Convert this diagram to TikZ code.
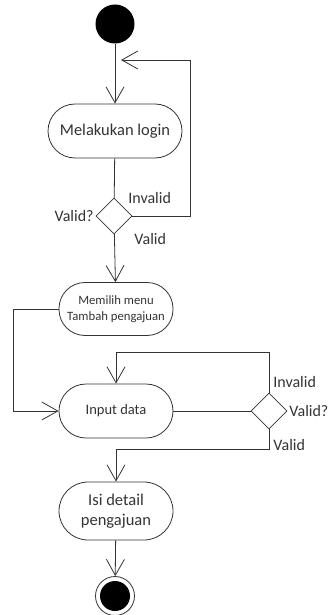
\documentclass[tikz,border=0pt]{standalone}
\usepackage{fontspec}
\setmainfont{Carlito}
\usetikzlibrary{arrows.meta,shapes.geometric}
\begin{document}
\begin{tikzpicture}[x=1pt,y=-1pt,line width=0.8pt,
  lc/.style={draw=black!80},
  act/.style={lc, rounded corners=26pt, minimum width=114pt, minimum height=53pt, inner sep=0pt, align=center, text=black!80},
  dec/.style={lc, diamond, minimum width=36pt, minimum height=36pt, inner sep=0pt},
  lbl/.style={text=black!80, font=\fontsize{16}{18}\selectfont, inner sep=0pt},
  arr/.style={lc, -{Straight Barb[length=16pt,width=18pt,line width=0.8pt]}},
  ln/.style={lc}
]
\useasboundingbox (0,0) rectangle (328,615);
\node[circle, fill=black, minimum size=39pt, inner sep=0pt] (start) at (115,24) {};
\node[act, minimum width=134pt, minimum height=54pt, rounded corners=27pt, font=\fontsize{16.5}{19}\selectfont] (login) at (115,131) {Melakukan login};
\node[dec] (d1) at (114,216) {};
\node[act, font=\fontsize{12.7}{16}\selectfont] (memilih) at (116,309) {Memilih menu\\Tambah pengajuan};
\node[act, minimum height=54pt, rounded corners=27pt, font=\fontsize{14.5}{17}\selectfont] (input) at (116,411) {Input data};
\node[dec] (d2) at (269,411) {};
\node[act, minimum height=58pt, rounded corners=29pt, font=\fontsize{16.5}{20}\selectfont] (isi) at (116,511) {Isi detail\\pengajuan};
\node[circle, lc, minimum size=39pt, inner sep=0pt] (end) at (115,596) {};
\node[circle, fill=black, minimum size=30pt, inner sep=0pt] (endin) at (115,596) {};

\coordinate (c1) at (190,60);
\coordinate (j1) at (121,60);
\draw[arr] (start) -- (login);
\draw[ln] (login) -- (d1);
\draw[arr] (d1.east) -| (c1) -- (j1);
\draw[arr] (d1) -- (memilih);
\draw[arr] (memilih.west) -- ++(-45,0) |- (input.west);
\draw[ln] (input) -- (d2);
\draw[arr] (d2.north) -- ++(0,-40) -| (input.north);
\draw[arr] (d2.south) -- ++(0,20) -| (isi.north);
\draw[arr] (isi) -- (end);

\node[lbl, anchor=west] (l1) at (128,198) {Invalid};
\node[lbl, anchor=east] (l2) at (94,216) {Valid?};
\node[lbl, anchor=west] (l3) at (134,239) {Valid};
\node[lbl, anchor=west] (l4) at (273,382) {Invalid};
\node[lbl, anchor=west] (l5) at (289,411) {Valid?};
\node[lbl, anchor=west] (l6) at (273,445) {Valid};
\end{tikzpicture}
\end{document}
